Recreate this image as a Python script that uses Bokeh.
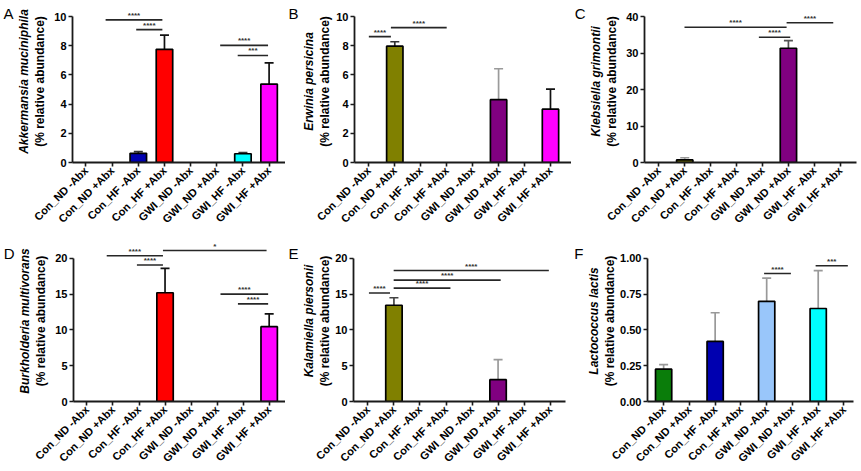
import math
from bokeh.plotting import figure
from bokeh.layouts import column, row
from bokeh.models import (FixedTicker, LinearAxis, ColumnDataSource,
                          Range1d, NumeralTickFormatter)
from bokeh.core.properties import value
from bokeh.embed import file_html
from bokeh.resources import INLINE

# ---------------- data ----------------
groups = ["Con_ND -Abx", "Con_ND +Abx", "Con_HF -Abx", "Con_HF +Abx",
          "GWI_ND -Abx", "GWI_ND +Abx", "GWI_HF -Abx", "GWI_HF +Abx"]
bar_colors = ["#0a7d0a", "#808000", "#0000b0", "#ff0000",
              "#99c6fa", "#800080", "#00ffff", "#ff00ff"]

A_species = "Akkermansia muciniphila"
A_mean = [0, 0, 0.63, 7.75, 0, 0, 0.60, 5.37]
A_err = [0, 0, 0.12, 0.97, 0, 0, 0.07, 1.45]
A_errcol = ["#222", "#222", "#333", "#111", "#222", "#222", "#333", "#111"]
A_ticks = [0, 2, 4, 6, 8, 10]
A_sig = [(0.75, 2.92, 9.77, "****"), (1.92, 2.92, 9.10, "****"),
         (5.13, 6.96, 8.02, "****"), (5.80, 6.96, 7.33, "***")]

B_species = "Erwinia persicina"
B_mean = [0, 7.97, 0, 0, 0, 4.30, 0, 3.65]
B_err = [0, 0.30, 0, 0, 0, 2.12, 0, 1.37]
B_errcol = ["#222", "#333", "#222", "#222", "#222", "#9a9a9a", "#222", "#111"]
B_ticks = [0, 2, 4, 6, 8, 10]
B_sig = [(0.00, 0.85, 8.62, "****"), (0.85, 3.00, 9.24, "****")]

C_species = "Klebsiella grimontii"
C_mean = [0, 0.70, 0, 0, 0, 31.3, 0, 0]
C_err = [0, 0.60, 0, 0, 0, 2.10, 0, 0]
C_errcol = ["#222", "#999", "#222", "#222", "#222", "#555", "#222", "#222"]
C_ticks = [0, 10, 20, 30, 40]
C_sig = [(0.99, 4.93, 37.05, "****"), (4.93, 6.73, 38.3, "****"),
         (3.86, 5.07, 34.3, "****")]

D_species = "Burkholderia multivorans"
D_mean = [0, 0, 0, 15.2, 0, 0, 0, 10.45]
D_err = [0, 0, 0, 3.40, 0, 0, 0, 1.80]
D_errcol = ["#111"] * 8
D_ticks = [0, 5, 10, 15, 20]
D_sig = [(0.76, 2.92, 20.37, "****"), (1.92, 2.92, 19.08, "****"),
         (2.92, 6.90, 21.10, "*"), (5.13, 6.96, 15.0, "****"),
         (5.80, 6.96, 13.64, "****")]

E_species = "Kalamiella piersonii"
E_mean = [0, 13.45, 0, 0, 0, 3.05, 0, 0]
E_err = [0, 1.05, 0, 0, 0, 2.80, 0, 0]
E_errcol = ["#222", "#444", "#222", "#222", "#222", "#9a9a9a", "#222", "#222"]
E_ticks = [0, 5, 10, 15, 20]
E_sig = [(0.04, 0.85, 15.16, "****"), (0.99, 3.17, 15.85, "****"),
         (0.99, 5.10, 16.96, "****"), (0.99, 6.95, 18.3, "****")]

F_species = "Lactococcus lactis"
F_mean = [0.226, 0, 0.42, 0, 0.70, 0, 0.65, 0]
F_err = [0.032, 0, 0.20, 0, 0.162, 0, 0.265, 0]
F_errcol = ["#999"] * 8
F_ticks = [0, 0.25, 0.5, 0.75, 1.0]
F_sig = [(3.90, 4.94, 0.894, "****"), (5.90, 7.15, 0.949, "***")]

FONT = "Liberation Sans"
AX = "#1a1a1a"


def blank_axis(label, style, size, orient="parallel"):
    return LinearAxis(ticker=FixedTicker(ticks=[]),
                      axis_line_color=None, major_tick_line_color=None,
                      minor_tick_line_color=None, major_tick_out=0,
                      major_tick_in=0, major_label_standoff=0,
                      axis_label=label, axis_label_standoff=0,
                      axis_label_orientation=orient,
                      axis_label_text_font=FONT,
                      axis_label_text_font_style=style,
                      axis_label_text_font_size=size,
                      axis_label_text_color="black")


def make_panel(letter, species, means, errs, errcols, ticks, sigs,
               width, height, bl, br, bb, xr, ext, lab_std, fmt=None):
    ymax = ticks[-1]
    p = figure(width=width, height=height, output_backend="svg",
               toolbar_location=None, min_border_left=bl, min_border_right=br,
               min_border_top=0, min_border_bottom=bb,
               x_range=Range1d(*xr), y_range=Range1d(0, ymax * ext))
    p.outline_line_color = None
    p.xgrid.visible = False
    p.ygrid.visible = False
    p.background_fill_color = "white"

    idx = [i for i in range(len(groups)) if means[i] > 0]
    src = ColumnDataSource(dict(
        x=idx,
        top=[means[i] for i in idx],
        up=[means[i] + errs[i] for i in idx],
        col=[bar_colors[i] for i in idx],
        ecol=[errcols[i] for i in idx],
    ))
    p.segment(x0="x", y0="top", x1="x", y1="up", source=src,
              line_color="ecol", line_width=1.7)
    p.scatter(x="x", y="up", source=src, marker="dash", size=9,
              line_color="ecol", line_width=1.7)
    p.vbar(x="x", top="top", bottom=0, width=0.63, source=src,
           fill_color="col", line_color="black", line_width=1.7)

    ssrc = ColumnDataSource(dict(
        x0=[s[0] for s in sigs], x1=[s[1] for s in sigs],
        y=[s[2] for s in sigs], xm=[(s[0] + s[1]) / 2 for s in sigs],
        t=[s[3] for s in sigs]))
    p.segment(x0="x0", y0="y", x1="x1", y1="y", source=ssrc,
              line_color="#262626", line_width=1.6)
    p.text(x="xm", y="y", text="t", source=ssrc, text_align="center",
           text_baseline="bottom", y_offset=0, text_font=value(FONT),
           text_font_size="8px", text_font_style="bold", text_color="#333")

    # x axis
    xa = p.xaxis[0]
    xa.ticker = FixedTicker(ticks=list(range(len(groups))))
    xa.major_label_overrides = {i: g for i, g in enumerate(groups)}
    xa.major_label_orientation = math.pi / 4
    xa.major_label_text_font = FONT
    xa.major_label_text_font_style = "bold"
    xa.major_label_text_font_size = "11px"
    xa.major_label_text_color = "black"
    xa.major_label_standoff = 2
    xa.minor_tick_line_color = None
    xa.major_tick_in = 0
    xa.major_tick_out = 4
    xa.axis_line_width = 1.8
    xa.major_tick_line_width = 1.6
    xa.axis_line_color = AX
    xa.major_tick_line_color = AX

    # y axis
    ya = p.yaxis[0]
    ya.ticker = FixedTicker(ticks=ticks)
    ya.bounds = (0, ymax)
    if fmt:
        ya.formatter = NumeralTickFormatter(format=fmt)
    ya.major_label_text_font = FONT
    ya.major_label_text_font_style = "bold"
    ya.major_label_text_font_size = "11px"
    ya.major_label_text_color = "black"
    ya.major_label_standoff = 2
    ya.minor_tick_line_color = None
    ya.major_tick_in = 0
    ya.major_tick_out = 4
    ya.axis_line_width = 1.8
    ya.major_tick_line_width = 1.6
    ya.axis_line_color = AX
    ya.major_tick_line_color = AX
    ya.axis_label = "(% relative abundance)"
    ya.axis_label_text_font = FONT
    ya.axis_label_text_font_style = "bold"
    ya.axis_label_text_font_size = "12px"
    ya.axis_label_text_color = "black"
    ya.axis_label_standoff = lab_std

    p.add_layout(blank_axis(species, "bold italic", "12px"), "left")
    lax = blank_axis(letter, "normal", "15px", "horizontal")
    try:
        lax.axis_label_align = "right"
    except Exception:
        lax.axis_label = letter + "\n" * 8
        lax.axis_label_text_line_height = 1.0
    p.add_layout(lax, "left")
    return p


R1H, R1B, R1E = 240, 78, 162 / 146
R2H, R2B, R2E = 231, 69, 162 / 144

pA = make_panel("A", A_species, A_mean, A_err, A_errcol, A_ticks, A_sig,
                285, R1H, 64, 0, R1B, (-0.516, 7.627), R1E, 4)
pB = make_panel("B", B_species, B_mean, B_err, B_errcol, B_ticks, B_sig,
                286, R1H, 59, 0, R1B, (-0.553, 7.81), R1E, 1)
pC = make_panel("C", C_species, C_mean, C_err, C_errcol, C_ticks, C_sig,
                290, R1H, 63, 5, R1B, (-0.553, 7.627), R1E, 4)
pD = make_panel("D", D_species, D_mean, D_err, D_errcol, D_ticks, D_sig,
                285, R2H, 64, 0, R2B, (-0.516, 7.627), R2E, 4)
pE = make_panel("E", E_species, E_mean, E_err, E_errcol, E_ticks, E_sig,
                286, R2H, 59, 6, R2B, (-0.553, 7.59), R2E, 0)
pF = make_panel("F", F_species, F_mean, F_err, F_errcol, F_ticks, F_sig,
                290, R2H, 65, 8, R2B, (-0.626, 7.37), R2E, 0,
                fmt="0.00")

layout = column(row(pA, pB, pC), row(pD, pE, pF))

with open("out.html", "w") as f:
    f.write(file_html(layout, INLINE))
